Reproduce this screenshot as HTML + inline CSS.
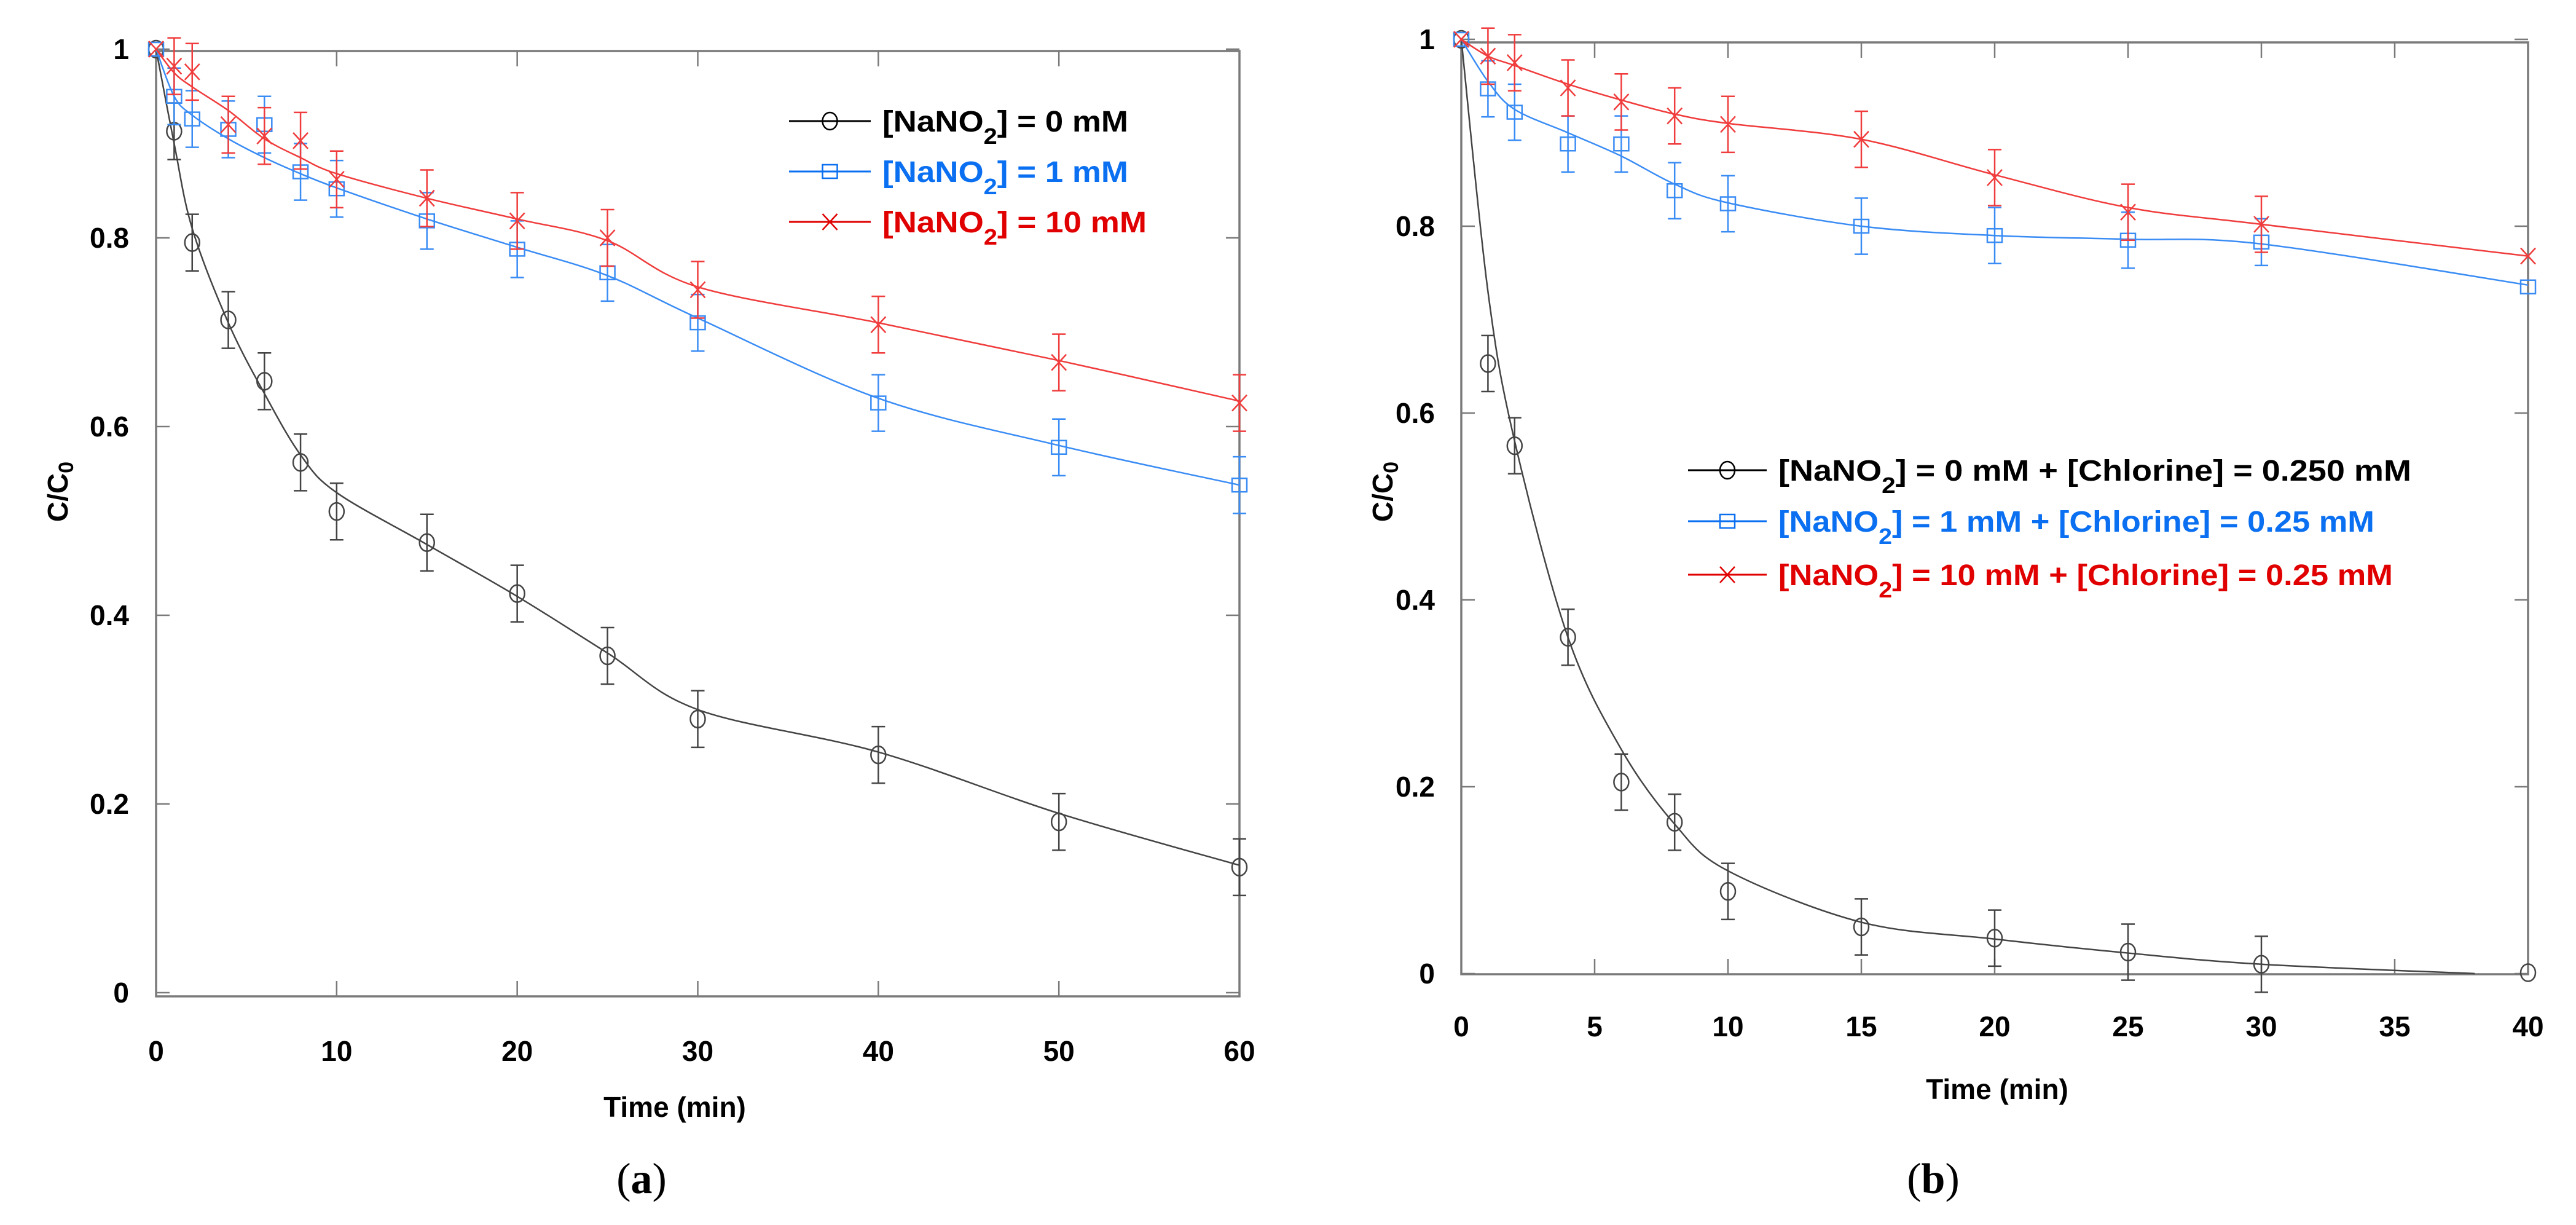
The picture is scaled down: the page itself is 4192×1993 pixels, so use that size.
<!DOCTYPE html>
<html><head><meta charset="utf-8">
<style>
html,body{margin:0;padding:0;background:#fff;}
svg{display:block;}
text{font-family:"Liberation Sans",Arial,sans-serif;}
</style></head>
<body>
<svg id="fig" width="4192" height="1993" viewBox="0 0 4192 1993" xmlns="http://www.w3.org/2000/svg"></svg>
<script>
// ---- Panel (a) data ----
const timesA = [0,1,2,4,6,8,10,15,20,25,30,40,50,60];
const a0mM  = [1,0.913,0.795,0.713,0.648,0.562,0.510,0.477,0.423,0.357,0.290,0.252,0.181,0.133];
const a1mM  = [1,0.950,0.926,0.915,0.920,0.870,0.852,0.818,0.788,0.763,0.710,0.625,0.578,0.538];
const a10mM = [1,0.982,0.976,0.920,0.908,0.903,0.862,0.842,0.818,0.800,0.745,0.708,0.668,0.625];
const errA0  = [0,0.03,0.03,0.03,0.03,0.03,0.03,0.03,0.03,0.03,0.03,0.03,0.03,0.03];
const errA1  = [0,0.03,0.03,0.03,0.03,0.03,0.03,0.03,0.03,0.03,0.03,0.03,0.03,0.03];
const errA10 = [0,0.03,0.03,0.03,0.03,0.03,0.03,0.03,0.03,0.03,0.03,0.03,0.03,0.03];
const fitA0  = [1,0.90,0.81,0.71,0.635,0.57,0.53,0.475,0.42,0.36,0.30,0.255,0.19,0.135];
const fitA1  = [1,0.95,0.93,0.905,0.885,0.868,0.853,0.82,0.79,0.76,0.715,0.63,0.58,0.538];
const fitA10 = [1,0.975,0.96,0.935,0.905,0.885,0.868,0.842,0.82,0.797,0.748,0.71,0.67,0.627];
const xTicksA = [0,10,20,30,40,50,60];
const yTicks = [0,0.2,0.4,0.6,0.8,1];
const yTickLabels = ["0","0.2","0.4","0.6","0.8","1"];
// ---- Panel (b) data ----
const timesB = [0,1,2,4,6,8,10,15,20,25,30,40];
const b0mM  = [1,0.653,0.565,0.360,0.205,0.162,0.088,0.050,0.038,0.023,0.010,0.001];
const b1mM  = [1,0.947,0.922,0.888,0.888,0.838,0.824,0.800,0.790,0.785,0.783,0.735];
const b10mM = [1,0.982,0.975,0.948,0.933,0.918,0.909,0.893,0.852,0.815,0.802,0.768];
const errB0  = [0,0.03,0.03,0.03,0.03,0.03,0.03,0.03,0.03,0.03,0.03,0];
const errB1  = [0,0.03,0.03,0.03,0.03,0.03,0.03,0.03,0.03,0.03,0.025,0];
const errB10 = [0,0.03,0.03,0.03,0.03,0.03,0.03,0.03,0.03,0.03,0.03,0];
const fitTimesB0 = [0,1,2,4,6,8,10,15,20,25,30,38];
const fitB0 = [1,0.73,0.57,0.36,0.24,0.16,0.11,0.055,0.037,0.022,0.010,0.0];
const fitB1  = [1,0.955,0.925,0.90,0.875,0.845,0.825,0.80,0.79,0.786,0.781,0.737];
const fitB10 = [1,0.982,0.972,0.952,0.935,0.92,0.91,0.893,0.855,0.82,0.802,0.768];
const xTicksB = [0,5,10,15,20,25,30,35,40];

const NS="http://www.w3.org/2000/svg";
const svg=document.getElementById('fig');
function mk(tag,attrs,parent){const e=document.createElementNS(NS,tag);for(const k in attrs)e.setAttribute(k,attrs[k]);(parent||svg).appendChild(e);return e;}

function smoothPath(pts){
  let d="M"+pts[0][0]+","+pts[0][1];
  for(let i=0;i<pts.length-1;i++){
    const p0=pts[Math.max(0,i-1)],p1=pts[i],p2=pts[i+1],p3=pts[Math.min(pts.length-1,i+2)];
    const c1x=p1[0]+(p2[0]-p0[0])/6,c1y=p1[1]+(p2[1]-p0[1])/6;
    const c2x=p2[0]-(p3[0]-p1[0])/6,c2y=p2[1]-(p3[1]-p1[1])/6;
    d+=" C"+c1x+","+c1y+" "+c2x+","+c2y+" "+p2[0]+","+p2[1];
  }
  return d;
}

function marker(g,type,x,y,color){
  if(type==='circle'){const m=mk('ellipse',{cx:x,cy:y,rx:12,ry:14,fill:'none',stroke:color,'stroke-width':2.5},g);}
  else if(type==='square'){const m=mk('rect',{x:x-12,y:y-11,width:24,height:22,fill:'none',stroke:color,'stroke-width':2.5},g);}
  else {const m=mk('path',{d:`M${x-12},${y-13}L${x+12},${y+13}M${x-12},${y+13}L${x+12},${y-13}`,stroke:color,'stroke-width':2.5,fill:'none'},g);}
}

function panel(cfg){
  const {x0,x1,y0,y1,xmax,xTicks,series,name,frameTop,frameBottom}=cfg;
  const sx=v=>x0+(x1-x0)*v/xmax;
  const sy=v=>y0-(y0-y1)*v;
  const g=mk('g',{});
  
  
  const frame=mk('rect',{x:x0,y:frameTop,width:x1-x0,height:frameBottom-frameTop,fill:'none',stroke:'#7a7a7a','stroke-width':3.5},g);
  
  
  xTicks.forEach(t=>{
    const X=sx(t);
    const tb=mk('line',{x1:X,y1:frameBottom,x2:X,y2:frameBottom-25,stroke:'#7a7a7a','stroke-width':2.5},g);
    
    
    const tt=mk('line',{x1:X,y1:frameTop,x2:X,y2:frameTop+25,stroke:'#7a7a7a','stroke-width':2.5},g);
    
    
    const lb=mk('text',{x:X,y:cfg.xLabelY,'font-size':46,'font-weight':'bold','text-anchor':'middle','dominant-baseline':'central',fill:'#000'},g);
    lb.textContent=String(t);
    
    
  });
  yTicks.forEach((t,i)=>{
    const Y=sy(t);
    const tl=mk('line',{x1:x0,y1:Y,x2:x0+22,y2:Y,stroke:'#7a7a7a','stroke-width':2.5},g);
    
    
    const tr=mk('line',{x1:x1,y1:Y,x2:x1-22,y2:Y,stroke:'#7a7a7a','stroke-width':2.5},g);
    
    
    const lb=mk('text',{x:cfg.yLabelX,y:Y,'font-size':46,'font-weight':'bold','text-anchor':'end','dominant-baseline':'central',fill:'#000'},g);
    lb.textContent=yTickLabels[i];
    
    
  });
  series.forEach(s=>{
    const sg=mk('g',{},g);
    
    
    const ft=s.fitT||s.t, fv=s.fitV||s.v;
    const pts=ft.map((t,i)=>[sx(t),sy(fv[i])]);
    const p=mk('path',{d:smoothPath(pts),fill:'none',stroke:s.color,'stroke-width':2.5},sg);
    
    
    s.t.forEach((t,i)=>{
      const X=sx(t),Y=sy(s.v[i]);
      if(s.e[i]>0){
        const yt=sy(s.v[i]+s.e[i]),yb=sy(s.v[i]-s.e[i]);
        const eb=mk('path',{d:`M${X},${yt}L${X},${yb}M${X-11},${yt}L${X+11},${yt}M${X-11},${yb}L${X+11},${yb}`,stroke:s.color,'stroke-width':2.5,fill:'none'},sg);
        
        
      }
      marker(sg,s.marker,X,Y,s.color);
    });
  });
  return {sx,sy};
}

const BLACK='#444', BLUE='#3a8cf5', RED='#f03c3c';
panel({name:'panel-a',x0:254,x1:2017,y0:1615,y1:80,frameTop:83,frameBottom:1621,xmax:60,xTicks:xTicksA,xLabelY:1710,yLabelX:210,
  series:[
    {name:'series-0mM',t:timesA,v:a0mM,e:errA0,color:BLACK,marker:'circle',fitV:fitA0},
    {name:'series-1mM',t:timesA,v:a1mM,e:errA1,color:BLUE,marker:'square',fitV:fitA1},
    {name:'series-10mM',t:timesA,v:a10mM,e:errA10,color:RED,marker:'x',fitV:fitA10}]});
panel({name:'panel-b',x0:2378,x1:4114,y0:1584,y1:64,frameTop:69,frameBottom:1585,xmax:40,xTicks:xTicksB,xLabelY:1670,yLabelX:2335,
  series:[
    {name:'series-b-0mM',t:timesB,v:b0mM,e:errB0,color:BLACK,marker:'circle',fitT:fitTimesB0,fitV:fitB0},
    {name:'series-b-1mM',t:timesB,v:b1mM,e:errB1,color:BLUE,marker:'square',fitV:fitB1},
    {name:'series-b-10mM',t:timesB,v:b10mM,e:errB10,color:RED,marker:'x',fitV:fitB10}]});

// legends
function legend(name,lx0,lx1,tx,ys,entries,colors,markers,lens){
  const g=mk('g',{});
  
  
  entries.forEach((en,i)=>{
    const y=ys[i];
    const eg=mk('g',{},g);
    
    
    mk('line',{x1:lx0,y1:y,x2:lx1,y2:y,stroke:colors[i],'stroke-width':3},eg);
    marker(eg,markers[i],(lx0+lx1)/2,y,colors[i]);
    const t=mk('text',{x:tx,y:y+17,'font-size':48,'font-weight':'bold',fill:colors[i],textLength:lens[i],lengthAdjust:'spacingAndGlyphs'},eg);
    t.innerHTML='[NaNO<tspan dy="20" font-size="36">2</tspan><tspan dy="-20">]'+en+'</tspan>';
    
    
  });
}
legend('legend-a',1284,1417,1436,[197,279,361],[' = 0 mM',' = 1 mM',' = 10 mM'],['#000','#0a6ff0','#e00000'],['circle','square','x'],[400,400,430]);
legend('legend-b',2747,2875,2894,[765,848,935],[' = 0 mM + [Chlorine] = 0.250 mM',' = 1 mM + [Chlorine] = 0.25 mM',' = 10 mM + [Chlorine] = 0.25 mM'],['#000','#0a6ff0','#e00000'],['circle','square','x'],[1030,970,1000]);

// axis titles
function txt(name,x,y,s,attrs){const t=mk('text',Object.assign({x:x,y:y,'font-size':46,'font-weight':'bold','text-anchor':'middle','dominant-baseline':'central',fill:'#000'},attrs||{}));t.innerHTML=s;return t;}
txt('x-axis-title-a',1098,1801,'Time (min)');
txt('x-axis-title-b',3250,1772,'Time (min)');
txt('y-axis-title-a',94,800,'C/C<tspan dy="14" font-size="34">0</tspan>',{transform:'rotate(-90 94 800)'});
txt('y-axis-title-b',2250,800,'C/C<tspan dy="14" font-size="34">0</tspan>',{transform:'rotate(-90 2250 800)'});
txt('panel-label-a',1044,1918,'(<tspan font-weight="bold">a</tspan>)',{'font-weight':'normal','font-size':70,style:'font-family:"Liberation Serif",serif'});
txt('panel-label-b',3146,1918,'(<tspan font-weight="bold">b</tspan>)',{'font-weight':'normal','font-size':70,style:'font-family:"Liberation Serif",serif'});
</script>
</body></html>
